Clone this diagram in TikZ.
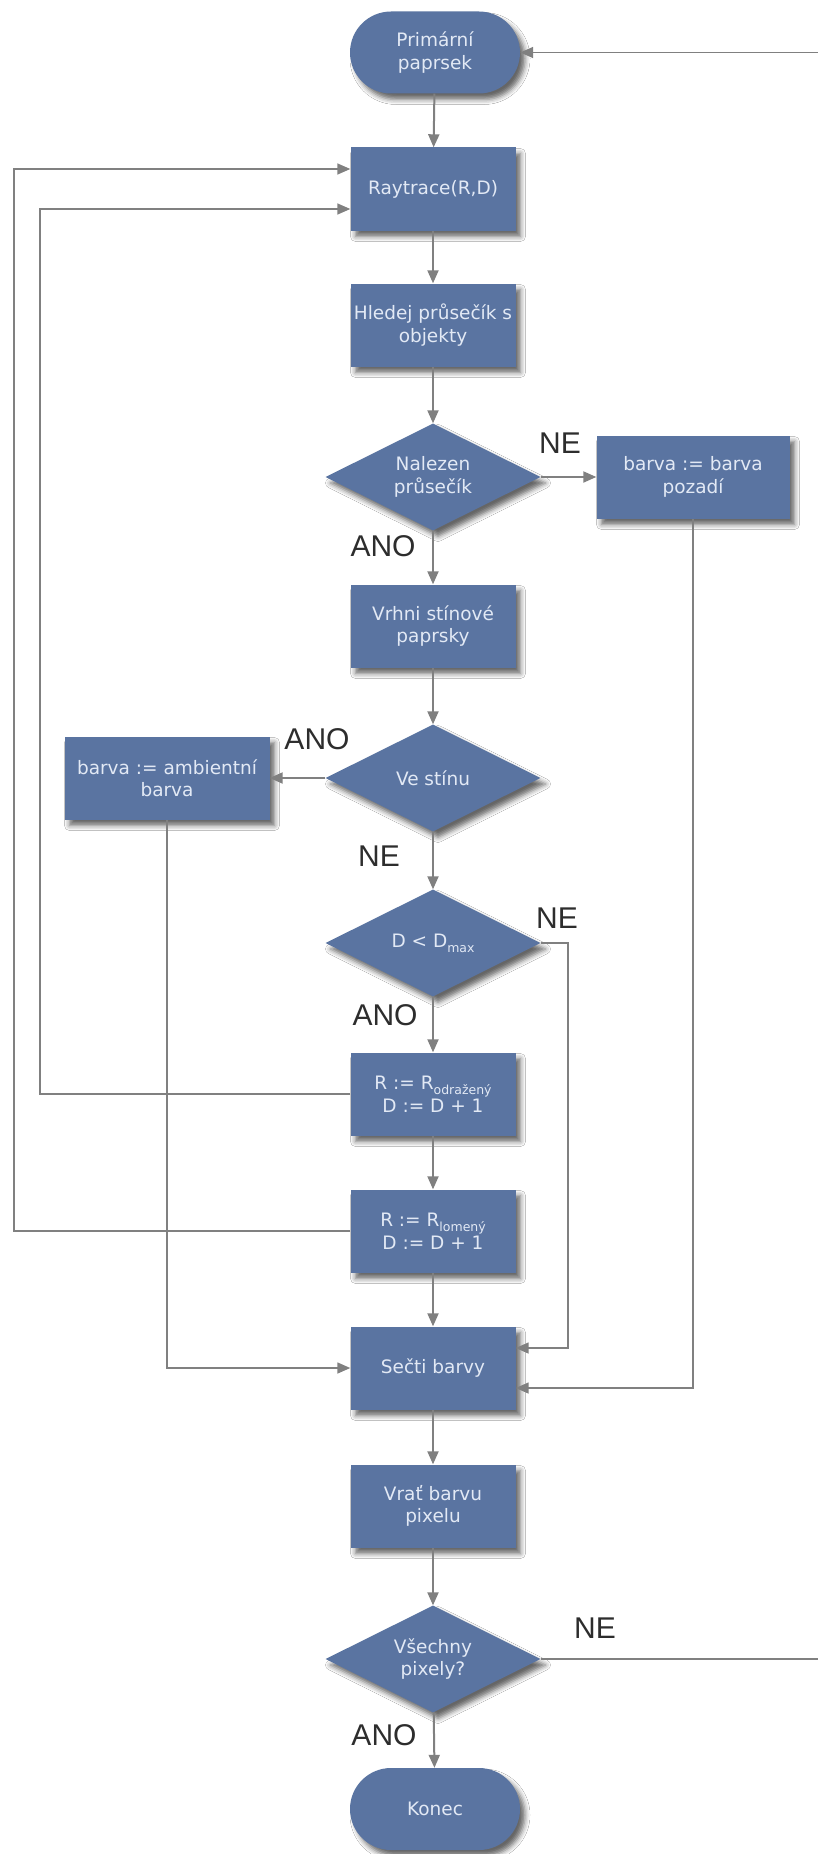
\documentclass[tikz,border=0pt]{standalone}
\usepackage{fontspec}
\setmainfont{DejaVu Sans}
\newfontfamily\labelfont{Liberation Sans}
\usetikzlibrary{shapes.geometric,shapes.misc,arrows.meta,shadows.blur}

\definecolor{boxblue}{RGB}{90,116,161}
\definecolor{boxtext}{RGB}{226,233,245}
\definecolor{wire}{RGB}{128,128,128}
\definecolor{labelgray}{RGB}{45,45,45}

\newcommand{\lowsub}[1]{\raisebox{-0.5ex}{\fontsize{12.5}{13}\selectfont #1}}

\tikzset{
  base/.style={fill=boxblue, text=boxtext, align=center, inner sep=0pt,
    font=\fontsize{18.5}{22.5}\selectfont,
    blur shadow={shadow xshift=5pt, shadow yshift=-6pt,
                 shadow blur radius=5pt, shadow opacity=60}},
  stepbox/.style={base, rectangle, minimum width=165pt, minimum height=83pt},
  termbox/.style={base, rounded rectangle, minimum width=170pt, minimum height=82pt},
  decision/.style={base, diamond, aspect=2, minimum width=215pt, minimum height=107pt},
  flow/.style={draw=wire, line width=2pt, -{Triangle[length=13pt,width=11pt]}},
  loopline/.style={draw=wire, line width=1.5pt, -{Triangle[length=13pt,width=11pt]}},
  answer/.style={font=\labelfont\fontsize{30}{30}\selectfont, text=labelgray, inner sep=0pt}
}

\begin{document}
\begin{tikzpicture}[x=1pt, y=-1pt]
  \fill[white] (0,0) rectangle (817,1854);
  \useasboundingbox (0,0) rectangle (817,1854);

  % main column
  \node[termbox]  (start)   at (435,52.5)  {Primární\\paprsek};
  \node[stepbox]  (rt)      at (433,189)   {Raytrace(R,D)};
  \node[stepbox]  (hledej)  at (433,325)   {Hledej průsečík s\\objekty};
  \node[decision] (nalezen) at (433,477)   {Nalezen\\průsečík};
  \node[stepbox, minimum width=193pt] (pozadi) at (693,477) {barva := barva\\pozadí};
  \node[stepbox]  (vrhni)   at (433,626)   {Vrhni stínové\\paprsky};
  \node[decision] (stin)    at (433,778)   {Ve stínu};
  \node[stepbox, minimum width=205pt] (ambient) at (167,778) {barva := ambientní\\barva};
  \node[decision] (dmax)    at (433,943)   {D < D\lowsub{max}};
  \node[stepbox]  (odr)     at (433,1094)  {R := R\lowsub{odražený}\\D := D + 1};
  \node[stepbox]  (lom)     at (433,1231)  {R := R\lowsub{lomený}\\D := D + 1};
  \node[stepbox]  (secti)   at (433,1368)  {Sečti barvy};
  \node[stepbox]  (vrat)    at (433,1506)  {Vrať barvu\\pixelu};
  \node[decision] (vsechny) at (433,1659)  {Všechny\\pixely?};
  \node[termbox]  (konec)   at (435,1809)  {Konec};

  % bend points of the side connectors
  \coordinate (innerloop) at (40,1094);
  \coordinate (outerloop) at (14,1231);
  \coordinate (dmaxside)  at (568,943);
  \coordinate (backside)  at (826,1659);

  % straight flow
  \draw[flow] (start) -- (rt);
  \draw[flow] (rt) -- (hledej);
  \draw[flow] (hledej) -- (nalezen);
  \draw[flow] (nalezen.east) -- (pozadi.west);
  \draw[flow] (nalezen) -- (vrhni);
  \draw[flow] (vrhni) -- (stin);
  \draw[flow] (stin.west) -- (ambient.east);
  \draw[flow] (stin) -- (dmax);
  \draw[flow] (dmax) -- (odr);
  \draw[flow] (odr) -- (lom);
  \draw[flow] (lom) -- (secti);
  \draw[flow] (secti) -- (vrat);
  \draw[flow] (vrat) -- (vsechny);
  \draw[flow] (vsechny) -- (konec);

  % side connectors
  \draw[loopline] (odr.west) -- (innerloop) |- ([yshift=-20pt]rt.west);
  \draw[loopline] (lom.west) -- (outerloop) |- ([yshift=20pt]rt.west);
  \draw[loopline] (ambient.south) |- (secti.west);
  \draw[loopline] (dmax.east) -- (dmaxside) |- ([yshift=20pt]secti.east);
  \draw[loopline] (pozadi.south) |- ([yshift=-20pt]secti.east);
  \draw[loopline] (vsechny.east) -- (backside) |- (start.east);

  % answers
  \node[answer] (neNalezen)  at (560,443)  {NE};
  \node[answer] (anoNalezen) at (383,546)  {ANO};
  \node[answer] (anoStin)    at (317,739)  {ANO};
  \node[answer] (neStin)     at (379,856)  {NE};
  \node[answer] (neDmax)     at (557,918)  {NE};
  \node[answer] (anoDmax)    at (385,1015) {ANO};
  \node[answer] (neVsechny)  at (595,1628) {NE};
  \node[answer] (anoVsechny) at (384,1735) {ANO};
\end{tikzpicture}
\end{document}
